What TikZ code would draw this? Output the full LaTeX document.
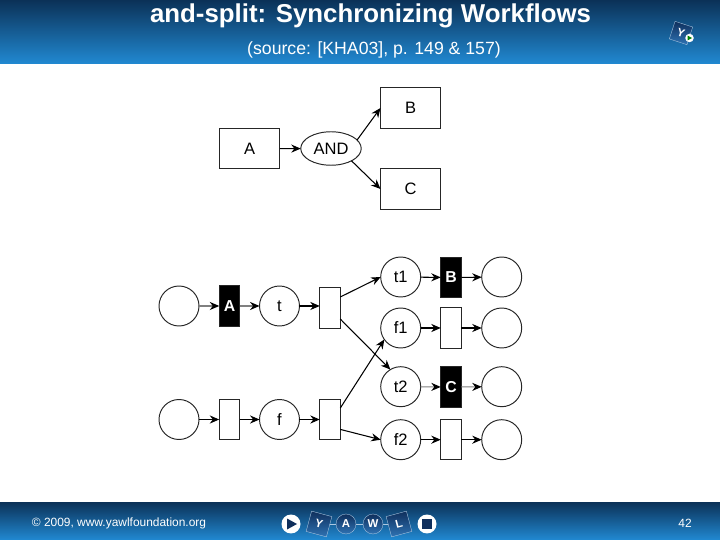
\documentclass[tikz,border=0pt]{standalone}
\usepackage{fontspec}
\setmainfont{Liberation Sans}
\usepackage{xcolor}
\usetikzlibrary{shapes.geometric,arrows.meta}
\definecolor{barDark}{HTML}{0B3157}
\definecolor{barLight}{HTML}{2189D2}
\definecolor{iconDark}{HTML}{0F2F5C}
\definecolor{iconLight}{HTML}{2F73B4}

\tikzset{
    place/.style={draw=black!85, circle, minimum size=0.8cm, inner sep=0pt, outer sep=0pt, line width=0.55pt, font=\fontsize{9.4}{11}\selectfont},
    trans/.style={draw=black!85, rectangle, minimum width=0.41cm, minimum height=0.81cm, inner sep=0pt, outer sep=0pt, line width=0.55pt},
    transon/.style={trans, fill=black, text=white, font=\fontsize{9}{11}\selectfont\bfseries},
    task/.style={draw=black!85, rectangle, minimum width=1.21cm, minimum height=0.81cm, inner sep=0pt, outer sep=0pt, line width=0.55pt, font=\fontsize{9.4}{11}\selectfont},
    split/.style={draw=black!85, ellipse, minimum width=1.21cm, minimum height=0.67cm, inner sep=0pt, outer sep=0pt, line width=0.55pt, font=\fontsize{9.4}{11}\selectfont},
    flow/.style={->, line width=0.6pt},
    flowgray/.style={-{Stealth[black, length=5.4pt, width=4.6pt]}, line width=0.6pt, draw=black!50},
    icon/.style={draw=white!60!iconLight, line width=0.2pt, rectangle, minimum size=0.42cm, inner sep=0pt, top color=iconDark, bottom color=iconLight, text=white, font=\fontsize{6.5}{7}\selectfont\bfseries},
    iconround/.style={icon, circle, minimum size=0.4cm},
    knob/.style={circle, fill=white, minimum size=0.38cm, inner sep=0pt}
}

\begin{document}
\begin{tikzpicture}[>={Stealth[length=5.4pt, width=4.6pt]}, x=0.02cm, y=-0.02cm]
    \useasboundingbox (0,0) rectangle (720,540);

    % Bars
    \shade[top color=barDark, bottom color=barLight] (0,0) rectangle (720,64);
    \shade[top color=barDark, bottom color=barLight] (0,502) rectangle (720,540);

    % Title
    \node[text=white, font=\fontsize{14.7}{17}\selectfont\bfseries] (title) at (370.5,16) {and-split: Synchronizing Workflows};
    \node[text=white, font=\fontsize{10.05}{12}\selectfont] (source) at (374,50) {(source: [KHA03], p. 149 \& 157)};

    % Corner logo
    \node[icon, rotate=-18, minimum size=0.37cm] (corner) at (681,33) {Y};
    \node[circle, fill=white, minimum size=0.17cm, inner sep=0pt] (cornerdot) at (689.5,38) {};
    \fill[green!50!black] (687.6,35.6) -- (692,38) -- (687.6,40.4) -- cycle;

    % Top diagram
    \node[task] (A) at (249.7,148.7) {A};
    \node[split] (AND) at (331,148.5) {AND};
    \node[task] (B) at (410.7,108) {B};
    \node[task] (C) at (410.7,189) {C};
    \draw[flow] (A) -- (AND);
    \draw[flow] (AND.18) -- (B.west);
    \draw[flow] (AND.-31) -- (C.west);

    % Net, left part
    \node[place] (in1) at (179,306) {};
    \node[transon] (tA) at (229.5,306) {A};
    \node[place] (t) at (279.5,306) {t};
    \node[trans] (tr1) at (330,308) {};
    \node[place] (in2) at (179,419.5) {};
    \node[trans] (tD) at (229.5,419.5) {};
    \node[place] (f) at (279.5,419.5) {f};
    \node[trans] (tr2) at (330,419.5) {};

    % Net, right part
    \node[place] (t1) at (400.7,277) {t1};
    \node[transon] (tB) at (451,277.5) {B};
    \node[place] (out1) at (501.7,277) {};
    \node[place] (f1) at (400.7,328) {f1};
    \node[trans] (tF1) at (451,328) {};
    \node[place] (out2) at (501.7,328) {};
    \node[place] (t2) at (400.7,386.7) {t2};
    \node[transon] (tC) at (451,387) {C};
    \node[place] (out3) at (501.7,386.7) {};
    \node[place] (f2) at (400.7,439.7) {f2};
    \node[trans] (tF2) at (451,439.7) {};
    \node[place] (out4) at (501.7,439.7) {};

    % Arcs
    \foreach \from/\to in {in2/tD,tD/f,f/tr2,t1/tB,f1/tF1,tF1/out2,f2/tF2,tF2/out4,tB/out1}
        \draw[flow] (\from) -- (\to);
    \foreach \from/\to in {in1/tA,tA/t,t2/tC,tC/out3}
        \draw[flowgray] (\from) -- (\to);
    \draw[flow] (t) -- (t -| tr1.west);
    \draw[flow] (tr1.47) -- (t1.west);
    \draw[flow] (tr1.-47) -- (t2.121);
    \draw[flow] (tr2.48) -- (f1.215);
    \draw[flow] (tr2.-44) -- (f2.west);

    % Footer
    \node[text=white, font=\fontsize{6.8}{8}\selectfont] (copy) at (119,523) {© 2009, www.yawlfoundation.org};
    \node[text=white, font=\fontsize{6.8}{8}\selectfont] (page) at (685,523.5) {42};

    % Footer logo
    \draw[white!60!iconLight, line width=0.2pt] (319,524) -- (399,524);
    \node[knob] (play) at (291,524) {};
    \fill[iconDark] (287,518.5) -- (297,524) -- (287,529.5) -- cycle;
    \node[icon, rotate=-15] (lY) at (319,524) {Y};
    \node[iconround] (lA) at (346,524) {A};
    \node[iconround] (lW) at (373,524) {W};
    \node[icon, rotate=15] (lL) at (399,524) {L};
    \node[knob] (stop) at (427,524) {};
    \fill[iconDark] (422,519) rectangle (432,529);
\end{tikzpicture}
\end{document}
